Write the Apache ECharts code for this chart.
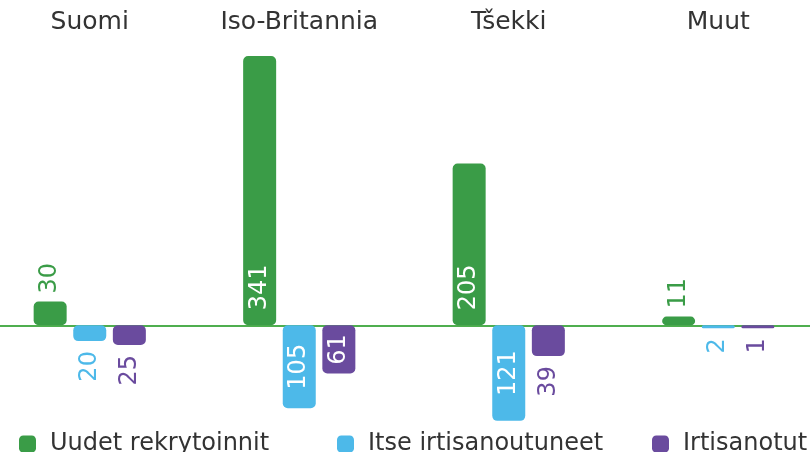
<!DOCTYPE html>
<html>
<head>
<meta charset="utf-8">
<script src="https://cdn.jsdelivr.net/npm/echarts@6/dist/echarts.min.js"></script>
<style>
  html, body { margin: 0; padding: 0; background: #fff; overflow: hidden; }
  /* wider than the window so the category bands match the original spacing */
  #main { width: 838px; height: 452px; margin-left: -15px; }
</style>
</head>
<body>
<div id="main"></div>
<script>
var categories = ['Suomi', 'Iso-Britannia', 'Tšekki', 'Muut'];
var uudet = [30, 341, 205, 11];
var itse = [-20, -105, -121, -2];
var irtisanotut = [-25, -61, -39, -1];

var GREEN = '#3a9c47';
var BLUE = '#4db9e9';
var PURPLE = '#6a4b9e';
var FONT = 'DejaVu Sans';

function absFmt(p) {
    return Math.abs(p.value);
}

// label inside or outside depending on the bar size
function posItems(vals, color) {
    return vals.map(function (v) {
        var big = v >= 100;
        return {
            value: v,
            label: big ? {
                position: 'insideBottom', distance: 15, color: '#fff'
            } : {
                position: 'top', distance: 8, color: color
            }
        };
    });
}

function negItems(vals, color) {
    return vals.map(function (v) {
        var big = Math.abs(v) >= 50;
        return {
            value: v,
            label: big ? {
                position: 'inside', align: 'center', color: '#fff'
            } : {
                position: 'bottom', distance: 10, align: 'right', color: color
            }
        };
    });
}

var myChart = echarts.init(document.getElementById('main'));

var barLabel = {
    show: true,
    rotate: 90,
    align: 'left',
    verticalAlign: 'middle',
    fontFamily: FONT,
    fontSize: 24,
    formatter: absFmt
};

var legendBase = {
    top: 427,
    icon: 'roundRect',
    itemWidth: 17,
    itemHeight: 17,
    textStyle: { fontFamily: FONT, fontSize: 24, color: '#333', padding: [0, 0, 0, 9] }
};

var option = {
    animation: false,
    grid: { left: 0, right: 0, top: 45, bottom: 28, containLabel: false },
    legend: [
        Object.assign({ left: 29, data: ['Uudet rekrytoinnit'] }, legendBase),
        Object.assign({ left: 347, data: ['Itse irtisanoutuneet'] }, legendBase),
        Object.assign({ left: 662, data: ['Irtisanotut'] }, legendBase)
    ],
    xAxis: [{
        type: 'category',
        data: categories,
        position: 'top',
        axisLine: { show: false, onZero: false },
        axisTick: { show: false },
        axisLabel: { fontFamily: FONT, fontSize: 25, color: '#333', margin: 10 }
    }, {
        type: 'category',
        data: categories,
        position: 'bottom',
        axisLine: { show: true, onZero: true, lineStyle: { color: '#4fae4f', width: 2 } },
        axisTick: { show: false },
        axisLabel: { show: false }
    }],
    yAxis: {
        type: 'value',
        min: -125,
        max: 355,
        show: false,
        splitLine: { show: false }
    },
    series: [{
        name: 'Uudet rekrytoinnit',
        type: 'bar',
        xAxisIndex: 0,
        barWidth: 33,
        barGap: '20%',
        itemStyle: { color: GREEN, borderRadius: 5 },
        label: barLabel,
        data: posItems(uudet, GREEN)
    }, {
        name: 'Itse irtisanoutuneet',
        type: 'bar',
        xAxisIndex: 0,
        barWidth: 33,
        barMinHeight: 3,
        itemStyle: { color: BLUE, borderRadius: 5 },
        label: barLabel,
        data: negItems(itse, BLUE)
    }, {
        name: 'Irtisanotut',
        type: 'bar',
        xAxisIndex: 0,
        barWidth: 33,
        barMinHeight: 3,
        itemStyle: { color: PURPLE, borderRadius: 5 },
        label: barLabel,
        data: negItems(irtisanotut, PURPLE)
    }]
};

myChart.setOption(option);
</script>
</body>
</html>
